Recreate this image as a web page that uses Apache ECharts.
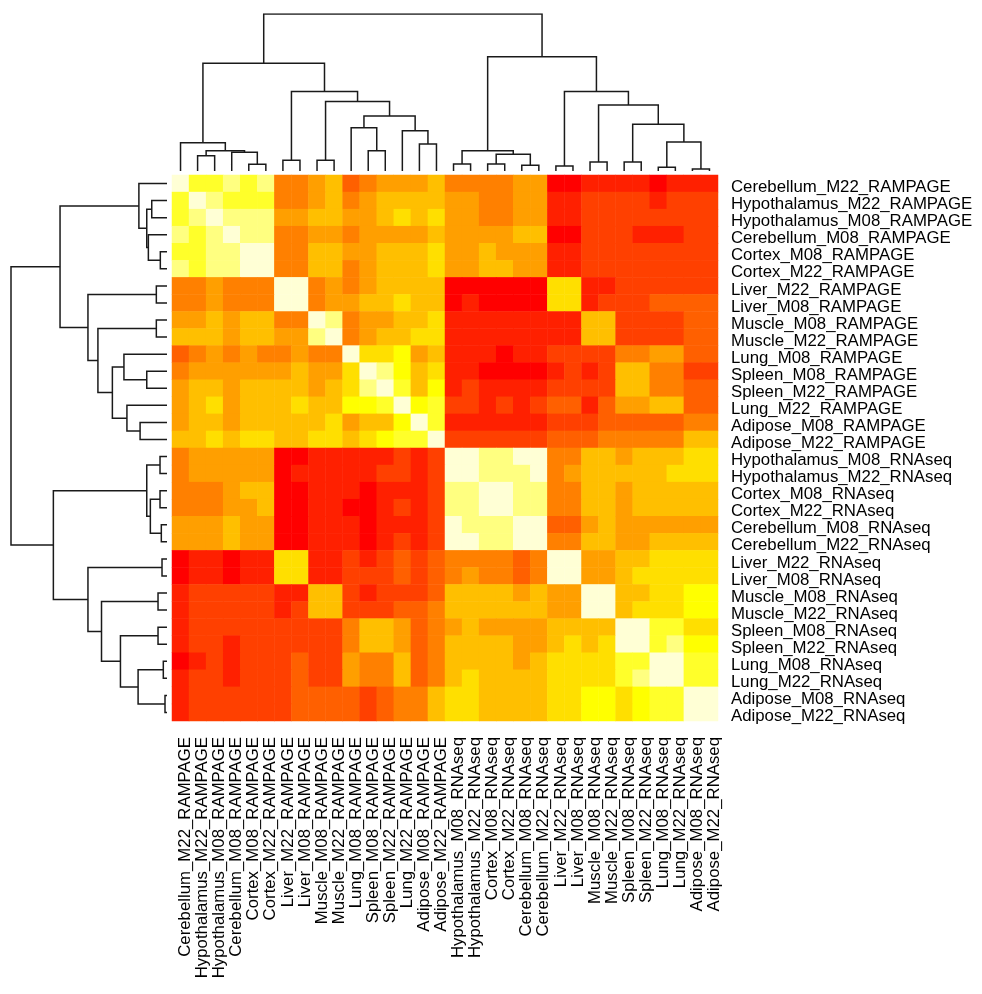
<!DOCTYPE html>
<html><head><meta charset="utf-8">
<script src="https://cdn.jsdelivr.net/npm/echarts@6/dist/echarts.min.js"></script>
<style>html,body{margin:0;padding:0;background:#fff}#c{width:982px;height:994px}</style>
</head><body><div id="c"></div>
<script>
// Sample names, in dendrogram (display) order for both rows and columns
const sampleNames = [
  'Cerebellum_M22_RAMPAGE','Hypothalamus_M22_RAMPAGE','Hypothalamus_M08_RAMPAGE','Cerebellum_M08_RAMPAGE',
  'Cortex_M08_RAMPAGE','Cortex_M22_RAMPAGE','Liver_M22_RAMPAGE','Liver_M08_RAMPAGE',
  'Muscle_M08_RAMPAGE','Muscle_M22_RAMPAGE','Lung_M08_RAMPAGE','Spleen_M08_RAMPAGE',
  'Spleen_M22_RAMPAGE','Lung_M22_RAMPAGE','Adipose_M08_RAMPAGE','Adipose_M22_RAMPAGE',
  'Hypothalamus_M08_RNAseq','Hypothalamus_M22_RNAseq','Cortex_M08_RNAseq','Cortex_M22_RNAseq',
  'Cerebellum_M08_RNAseq','Cerebellum_M22_RNAseq','Liver_M22_RNAseq','Liver_M08_RNAseq',
  'Muscle_M08_RNAseq','Muscle_M22_RNAseq','Spleen_M08_RNAseq','Spleen_M22_RNAseq',
  'Lung_M08_RNAseq','Lung_M22_RNAseq','Adipose_M08_RNAseq','Adipose_M22_RNAseq'
];

// Colour bins (heat.colors(12)): bin 0 = lowest, bin 11 = highest
const heatColors = ['#FF0000','#FF2000','#FF4000','#FF6000','#FF8000','#FF9F00',
                    '#FFBF00','#FFDF00','#FFFF00','#FFFF2A','#FFFF80','#FFFFD5'];

// Binned similarity values, one row per sample (rows top to bottom, columns left to right)
const binnedValues = [
  [11,9,9,10,9,10,4,4,5,6,3,4,5,5,5,6, 4,4,4,4,5,5,0,0,1,1,1,1,0,1,1,1],
  [9,11,10,9,9,9,4,4,5,6,4,5,6,6,6,6, 5,5,4,4,5,5,1,1,2,2,2,2,1,2,2,2],
  [9,10,11,10,10,10,5,5,6,6,5,5,6,7,6,7, 5,5,4,4,5,5,1,1,2,2,2,2,2,2,2,2],
  [10,9,10,11,10,10,4,4,5,5,4,5,5,5,5,6, 5,5,5,5,6,6,0,0,2,2,2,1,1,1,2,2],
  [9,9,10,10,11,11,4,4,6,6,5,5,6,6,6,7, 5,5,6,5,5,5,1,1,2,2,2,2,2,2,2,2],
  [10,9,10,10,11,11,4,4,6,6,4,5,6,6,6,7, 5,5,6,6,5,5,1,1,2,2,2,2,2,2,2,2],
  [4,4,5,4,4,4,11,11,4,5,4,5,6,6,6,6, 0,0,0,0,0,0,7,7,1,1,2,2,2,2,2,2],
  [4,4,5,4,4,4,11,11,4,5,5,6,6,7,6,6, 0,1,0,0,0,0,7,7,1,2,2,2,3,3,3,3],
  [5,5,6,5,6,6,4,4,11,10,4,5,5,6,6,7, 1,1,1,1,1,1,1,1,6,6,2,2,2,2,3,3],
  [6,6,6,5,6,6,5,5,10,11,4,5,6,6,7,7, 1,1,1,1,1,1,1,1,6,6,2,2,2,2,3,3],
  [3,4,5,4,5,4,4,5,4,4,11,7,7,8,5,6, 1,1,1,0,1,1,2,2,2,2,4,4,5,5,3,3],
  [4,5,5,5,5,5,5,6,5,5,7,11,10,8,6,7, 1,1,0,0,0,0,1,2,1,2,6,6,4,4,2,2],
  [5,6,6,5,6,6,6,6,5,6,7,10,11,9,6,8, 1,2,1,1,1,1,2,2,2,2,6,6,4,4,3,3],
  [5,6,7,5,6,6,6,7,6,6,8,8,9,11,8,9, 2,2,1,2,1,2,3,3,1,3,5,5,6,6,3,3],
  [5,6,6,5,6,6,6,6,6,7,5,6,6,8,11,9, 1,1,1,1,1,1,2,2,2,3,3,3,3,3,4,4],
  [6,6,7,6,7,7,6,6,7,7,6,7,8,9,9,11, 2,2,2,2,2,2,3,3,3,4,4,4,4,4,6,6],
  [4,5,5,5,5,5,0,0,1,1,1,1,1,2,1,2, 11,11,10,10,11,11,4,4,6,6,5,6,6,6,7,7],
  [4,5,5,5,5,5,0,1,1,1,1,1,2,2,1,2, 11,11,10,10,10,11,4,5,6,6,6,6,6,7,7,7],
  [4,4,4,5,6,6,0,0,1,1,1,0,1,1,1,2, 10,10,11,11,10,10,4,4,6,6,5,6,6,6,6,6],
  [4,4,4,5,5,6,0,0,1,1,0,0,1,2,1,2, 10,10,11,11,10,10,4,4,6,6,5,6,6,6,6,6],
  [5,5,5,6,5,5,0,0,1,1,1,0,1,1,1,2, 11,10,10,10,11,11,3,3,5,6,5,5,5,5,5,5],
  [5,5,5,6,5,5,0,0,1,1,1,0,1,2,1,2, 11,11,10,10,11,11,4,4,6,6,5,5,6,6,6,6],
  [0,1,1,0,1,1,7,7,1,1,2,1,2,3,2,3, 4,4,4,4,3,4,11,11,5,5,6,6,7,7,7,7],
  [0,1,1,0,1,1,7,7,1,1,2,2,2,3,2,3, 4,5,4,4,3,4,11,11,5,5,6,7,7,7,7,7],
  [1,2,2,2,2,2,1,1,6,6,2,1,2,2,2,3, 6,6,6,6,5,6,5,5,11,11,6,6,7,7,8,8],
  [1,2,2,2,2,2,1,2,6,6,2,2,2,3,3,4, 6,6,6,6,6,6,5,5,11,11,6,7,7,7,8,8],
  [1,2,2,2,2,2,2,2,2,2,4,6,6,5,3,4, 5,6,5,5,5,5,6,6,6,6,11,11,9,9,7,7],
  [1,2,2,1,2,2,2,2,2,2,4,6,6,5,3,4, 6,6,6,6,5,5,6,7,6,7,11,11,9,10,8,8],
  [0,1,2,1,2,2,2,3,2,2,5,4,4,6,3,4, 6,6,6,6,5,6,7,7,7,7,9,9,11,11,9,9],
  [1,2,2,1,2,2,2,3,2,2,5,4,4,6,3,4, 6,7,6,6,6,6,7,7,7,7,9,10,11,11,9,9],
  [1,2,2,2,2,2,2,3,3,3,3,2,3,4,4,6, 7,7,6,6,6,6,7,7,8,8,7,8,9,9,11,11],
  [1,2,2,2,2,2,2,3,3,3,3,2,3,4,4,6, 7,7,6,6,6,6,7,7,8,8,7,8,9,9,11,11]
];

// Hierarchical clustering merges (hclust style): negative = leaf -(index+1), positive = earlier merge (1-based); third = height
const mergeA = [-2,-5,-4, 1,-1,-7,-9,-12,-11,-15,-14, 9, 7, 6, 5,-17,-19,-21,17,16,-23,-25,-27,-29,-31,24,23,22,21,20,15];
const mergeB = [-3,-6, 2, 3, 4,-8,-10,-13, 8,-16, 10,11,12,13,14,-18,-20,-22,18,19,-24,-26,-28,-30,-32,25,26,27,28,29,30];
const mergeHeight = [15.3,6.7,18.7,20.3,28.2,10.7,10.7,20.3,43.2,27,40.2,54.8,69.3,79.3,107.3,
                     7,7,5.7,16.7,20.3,5,9,9,3.7,2,29,46.7,65.7,79.3,114,156.5];

function dendroSegments() {
  const pos = [], hgt = [], segs = [];
  const gp = r => r < 0 ? -r - 1 : pos[r - 1];
  const gh = r => r < 0 ? 0 : hgt[r - 1];
  for (let i = 0; i < mergeA.length; i++) {
    const a = mergeA[i], b = mergeB[i], h = mergeHeight[i];
    const pa = gp(a), pb = gp(b);
    pos[i] = (pa + pb) / 2; hgt[i] = h;
    segs.push([[pa, gh(a)], [pa, h], [pb, h], [pb, gh(b)]]);
  }
  return segs;
}
const segs = dendroSegments();
const maxH = Math.max(...mergeHeight);
const n = sampleNames.length;

const heatData = [];
binnedValues.forEach((row, r) => row.forEach((v, c) => heatData.push([c, r, v])));

const font = "'Liberation Sans', Arial, sans-serif";
const hiddenCat = {axisLine: {show: false}, axisTick: {show: false}, splitLine: {show: false}};
const chart = echarts.init(document.getElementById('c'), null, {renderer: 'canvas'});
chart.setOption({
  animation: false,
  backgroundColor: '#fff',
  grid: [
    {left: 172, top: 175, width: 546, height: 546},
    {left: 172, top: 14, width: 546, height: 157},
    {left: 11, top: 175, width: 156, height: 546},
    {left: 177, top: 179, width: 546, height: 546}
  ],
  xAxis: [
    Object.assign({type: 'category', gridIndex: 0, data: sampleNames, axisLabel: {show: false}}, hiddenCat),
    {type: 'value', gridIndex: 1, min: -0.5, max: n - 0.5, show: false},
    {type: 'value', gridIndex: 2, min: 0, max: maxH, inverse: true, show: false},
    Object.assign({type: 'category', gridIndex: 3, data: sampleNames, position: 'bottom',
     axisLabel: {rotate: 90, interval: 0, margin: 12, fontSize: 16.8, fontFamily: font, color: '#000'}}, hiddenCat)
  ],
  yAxis: [
    Object.assign({type: 'category', gridIndex: 0, data: sampleNames, inverse: true, axisLabel: {show: false}}, hiddenCat),
    {type: 'value', gridIndex: 1, min: 0, max: maxH, show: false},
    {type: 'value', gridIndex: 2, min: -0.5, max: n - 0.5, inverse: true, show: false},
    Object.assign({type: 'category', gridIndex: 3, data: sampleNames, inverse: true, position: 'right',
     axisLabel: {interval: 0, margin: 8, fontSize: 16.8, fontFamily: font, color: '#000'}}, hiddenCat)
  ],
  visualMap: {
    type: 'piecewise', show: false, seriesIndex: 0, dimension: 2,
    pieces: heatColors.map((c, i) => ({value: i, color: c}))
  },
  series: [
    {type: 'heatmap', xAxisIndex: 0, yAxisIndex: 0, data: heatData, silent: true,
     itemStyle: {borderWidth: 0}},
    {type: 'lines', coordinateSystem: 'cartesian2d', xAxisIndex: 1, yAxisIndex: 1, polyline: true, silent: true,
     lineStyle: {color: '#1a1a1a', width: 1.5, opacity: 1},
     data: segs.map(s => ({coords: s}))},
    {type: 'lines', coordinateSystem: 'cartesian2d', xAxisIndex: 2, yAxisIndex: 2, polyline: true, silent: true,
     lineStyle: {color: '#1a1a1a', width: 1.5, opacity: 1},
     data: segs.map(s => ({coords: s.map(p => [p[1], p[0]])}))}
  ]
});
</script>
</body></html>
